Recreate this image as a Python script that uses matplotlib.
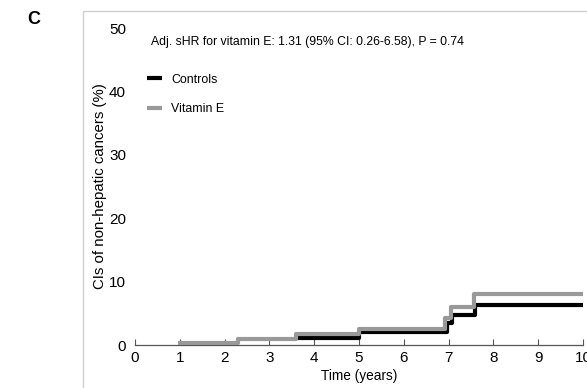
import matplotlib
matplotlib.use("Agg")
import matplotlib.pyplot as plt
from matplotlib.patches import Rectangle

plt.rcParams['font.family'] = ['Liberation Sans', 'DejaVu Sans']

# Cumulative incidence step curves (time in years, incidence in %)
controls_t = [3.6, 5.0, 6.97, 7.07, 7.6, 10.0]
controls_ci = [1.15, 2.0, 3.4, 4.7, 6.3, 6.3]
vite_t = [0.95, 2.3, 3.6, 5.0, 6.92, 7.05, 7.57, 10.0]
vite_ci = [0.35, 0.9, 1.7, 2.55, 4.2, 6.0, 8.1, 8.1]

x_ticks = list(range(0, 11))
y_ticks = [0, 10, 20, 30, 40, 50]
annotation = "Adj. sHR for vitamin E: 1.31 (95% CI: 0.26-6.58), P = 0.74"

fig = plt.figure(figsize=(5.87, 3.88), dpi=100)
ax = fig.add_axes([0.230, 0.1108, 0.763, 0.817])

# panel frame
fig.patches.append(Rectangle((83 / 587, -0.05), 1.0, (388 - 11) / 388 + 0.05,
                             transform=fig.transFigure, fill=False,
                             edgecolor='#cfcfcf', linewidth=1.0, clip_on=False))
fig.text(27 / 587, 1 - 19 / 388, "C", fontsize=13, fontweight='bold',
         ha='left', va='center')

ax.plot(controls_t, controls_ci, drawstyle='steps-post', color='black',
        lw=3.0, label='Controls', solid_capstyle='butt', zorder=3)
ax.plot(vite_t, vite_ci, drawstyle='steps-post', color='#999999',
        lw=3.0, label='Vitamin E', solid_capstyle='butt', zorder=4)

ax.set_xlim(0, 10)
ax.set_ylim(0, 50)
ax.set_xticks(x_ticks)
ax.set_yticks(y_ticks)
ax.tick_params(axis='x', direction='in', length=4, width=0.8, color='#555555',
               labelsize=11, pad=4)
ax.tick_params(axis='y', length=0, labelsize=11, pad=6.5)

for s in ['top', 'right', 'left']:
    ax.spines[s].set_visible(False)
ax.spines['bottom'].set_color('#555555')
ax.spines['bottom'].set_linewidth(0.9)

ax.set_xlabel("Time (years)", fontsize=9.8, labelpad=3)
ax.set_ylabel("CIs of non-hepatic cancers (%)", fontsize=10.8, labelpad=1.5)

ax.text(0.35, 47.8, annotation, fontsize=8.85, ha='left', va='center')

leg = ax.legend(loc='upper left', bbox_to_anchor=(0.015, 0.872), frameon=False,
                fontsize=8.9, handlelength=1.2, handletextpad=0.8,
                labelspacing=1.4, borderaxespad=0)

fig.savefig("out.png", dpi=100)
